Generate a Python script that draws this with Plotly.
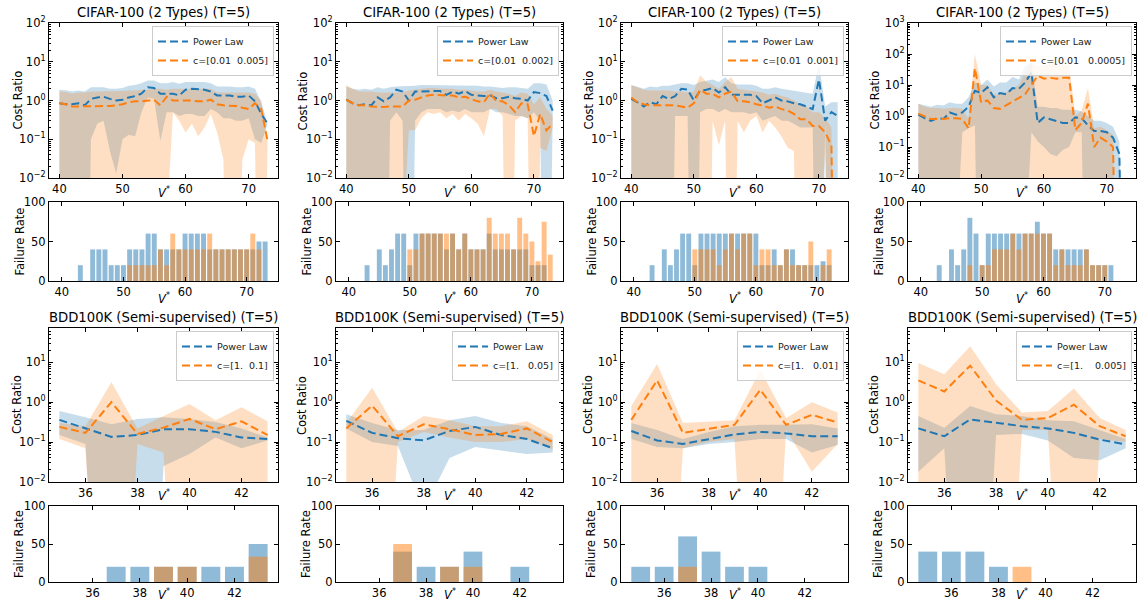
import numpy as np
import plotly.graph_objects as go

W, H = 1138, 602
NB = "\u00a0"

# ---------------- data ----------------
V_CIFAR = list(range(40, 74))
V_BDD = list(range(35, 44))

CIFAR_TITLE = "CIFAR-100 (2 Types) (T=5)"
BDD_TITLE = "BDD100K (Semi-supervised) (T=5)"
BASE_NAME = "Power Law"
CIFAR_C = ["c=[0.01  0.005]", "c=[0.01  0.002]", "c=[0.01  0.001]", "c=[0.01   0.0005]"]
BDD_C = ["c=[1.  0.1]", "c=[1.   0.05]", "c=[1.   0.01]", "c=[1.    0.005]"]

# CIFAR cost ratio (0 = below the axis / non-positive)
pl1_mean = [0.85,0.8,0.8,0.85,0.75,1.1,1.2,1.25,1.1,1.0,1.05,1.2,1.3,1.5,2.2,2.1,1.5,1.5,1.5,1.35,1.9,2.0,1.95,1.9,1.7,1.35,1.35,1.35,1.25,1.25,1.35,0.95,0.45,0.25]
pl1_lo = [0,0,0,0,0,0.1,0.25,0.3,0.05,0.013,0.1,0.13,0.12,0.5,1.2,1.1,0.09,0.5,0.5,0.4,0.45,0.45,0.4,0.4,0.6,0.5,0.35,0.35,0.3,0.3,0.35,0.1,0.08,0.25]
pl1_hi = [1.9,1.85,1.7,1.8,1.7,2.2,2.2,2.2,2.0,2.0,2.1,2.4,2.5,2.8,3.3,3.3,2.8,2.8,3.0,2.7,3.0,3.0,3.0,3.0,2.8,2.3,2.3,2.3,2.2,2.2,2.3,2.0,0.9,0.25]
c1_mean = [0.85,0.8,0.7,0.7,0.72,0.72,0.72,0.72,0.72,0.75,0.8,0.9,0.95,0.95,1.0,1.05,0.75,1.25,1.0,1.0,1.0,1.0,0.95,0.95,1.05,0.8,0.75,0.75,0.72,0.65,0.6,0.85,0.6,0.09]
c1_lo = [0]*18 + [0.5,0.3,0.15,0.25,0.12,0.2,0.45,0.15,0.03,0,0,0.03,0.1,0.08,0,0.09]
c1_hi = [1.7,1.65,1.5,1.6,1.6,1.7,1.7,1.7,1.7,1.7,1.75,1.8,1.8,1.9,1.9,2.0,2.0,1.9,2.0,2.0,2.0,2.0,2.0,2.0,2.0,1.6,1.6,1.6,1.6,1.6,1.6,1.5,1.0,0.09]

pl2_mean = [1.05,0.85,0.75,0.8,0.75,1.2,0.95,1.2,1.9,1.7,1.0,1.7,1.7,1.75,1.75,1.75,1.4,1.7,1.5,1.75,1.4,1.35,1.3,1.35,1.15,1.15,1.25,1.15,1.1,1.0,1.65,1.55,1.3,0.55]
pl2_lo = [0,0,0,0,0,0,0,0.3,0.5,0.3,0,0.3,0.5,0.6,0.6,0.6,0.5,0.55,0.5,0.6,0.5,0.5,0.5,0.6,0.5,0.5,0.45,0.4,0.4,0.35,0.5,0.3,0,0.4]
pl2_hi = [2.3,2.0,1.9,2.0,1.9,2.2,2.0,2.2,2.3,2.3,2.3,2.4,2.5,2.5,2.5,2.5,2.4,2.5,2.4,2.5,2.4,2.4,2.3,2.3,2.2,2.1,2.2,2.2,2.1,2.0,2.8,2.8,2.6,1.0]
c2_mean = [1.05,0.85,0.75,0.75,0.7,0.68,0.68,0.7,0.7,0.7,1.0,1.05,1.2,1.35,1.4,1.35,1.35,1.35,1.2,1.25,1.1,0.95,0.9,1.55,0.95,0.95,0.75,0.5,0.85,0.8,0.12,0.45,0.17,0.25]
c2_lo = [0]*10 + [0.17,0.17,0.35,0.5,0.45,0.5,0.35,0.45,0.3,0.45,0.35,0.25,0.12,0.6,0.6,0.4,0,0.3,0.4,0.35,0,0.06,0.05,0.2]
c2_hi = [2.5,2.0,1.7,1.7,1.7,1.6,1.6,1.6,1.6,1.6,1.8,1.9,2.0,2.1,2.1,2.0,2.0,2.0,1.9,1.9,1.8,1.7,1.7,1.9,1.7,1.6,1.5,1.3,1.6,1.5,0.8,1.2,0.6,0.4]

pl3_mean = [1.1,0.9,0.7,0.9,0.8,1.3,1.1,1.3,2.0,1.9,1.0,1.8,1.9,2.1,1.6,2.2,1.4,1.4,1.4,1.4,1.3,0.85,1.0,1.2,1.0,0.95,0.85,0.8,0.7,0.6,3.5,0.3,0.5,0.4]
pl3_lo = [0,0,0,0,0,0,0,0.4,0.4,0.4,0,0.5,0.6,0.6,0.5,0.6,0.5,0.5,0.5,0.45,0.5,0.3,0.35,0.4,0.3,0.3,0.25,0.2,0.2,0.2,0,0.25,0,0]
pl3_hi = [2.5,2.2,2.0,2.3,2.2,2.4,2.4,2.6,2.8,2.8,2.5,3.0,3.2,3.5,3.0,4.0,2.8,2.6,2.6,2.6,2.4,2.0,2.0,2.2,2.0,1.9,1.8,1.7,1.6,1.5,9.0,0.7,0.9,0.9]
c3_mean = [1.2,0.9,0.8,0.75,0.75,0.75,0.75,0.75,0.7,0.65,0.85,1.9,1.5,1.5,1.2,1.5,1.7,0.95,0.95,0.9,0.8,0.75,0.65,0.7,0.6,0.55,0.45,0.33,0.33,0.22,0.22,0.15,0.07,0]
c3_lo = [0]*13 + [0.3,0.07,0.3,0,0.3,0.15,0.3,0.4,0.15,0.3,0.2,0.12,0.06,0.05,0,0,0,0,0.05,0,0]
c3_hi = [2.5,2.2,1.9,1.8,1.8,1.8,1.8,1.7,1.7,1.6,1.7,4.5,3.0,2.5,2.0,3.0,4.0,2.0,1.9,1.8,1.7,1.6,1.4,1.5,1.3,1.2,1.0,0.8,0.7,0.5,0.5,0.35,0.2,0]

pl4_mean = [1.1,0.85,0.7,0.85,0.8,1.3,1.1,1.3,2.0,6.5,5.5,8.5,4.0,5.5,5.0,8.0,7.5,12,25,0.6,0.9,0.8,0.7,0.6,0.6,0.9,0.85,0.5,0.33,0.33,0.3,0.2,0.06,0]
pl4_lo = [0,0,0,0,0,0,0,0.3,0.4,0.5,0,0,0,0,0,0,0,0,0.3,0.15,0.1,0.06,0.05,0.08,0.1,0.3,0.3,0,0,0,0,0,0,0]
pl4_hi = [2.5,2.2,2.0,2.3,2.2,2.8,2.5,2.5,4.0,12,10,15,9,12,12,18,15,40,55,2.0,2.0,1.8,1.8,1.6,1.6,1.6,1.4,1.0,0.7,0.7,0.6,0.45,0.15,0]
c4_mean = [1.2,0.95,0.8,0.8,0.8,0.85,0.85,0.8,0.4,35,2.7,3.2,1.8,1.7,2.2,3.0,3.7,5.0,10,20,16,17,16,17,17,0.35,0.6,2.5,0.1,0.2,0.15,0.1,0,0]
c4_lo = [0]*34
c4_hi = [2.5,2.0,1.8,1.8,1.7,1.8,1.8,1.7,0.8,100,10,10,5,5,6,8,10,25,50,40,45,48,50,45,45,1.0,1.5,8,0.4,0.45,0.35,0.25,0,0]

# CIFAR failure rate (%)
fr_pl1 = [0,0,0,20,0,40,40,40,20,20,20,40,40,40,60,60,40,40,40,40,60,60,60,60,40,40,40,40,40,40,40,40,50,50]
fr_c1 = [0,0,0,0,0,0,0,0,0,0,0,20,20,20,20,20,40,20,60,40,40,40,40,40,60,40,40,40,40,40,40,60,40,0]
fr_pl2 = [0,0,0,20,0,40,20,40,60,60,20,60,60,60,60,60,40,60,40,60,40,40,40,60,40,40,40,40,40,40,20,20,20,0]
fr_c2 = [0,0,0,0,0,0,0,0,0,0,40,40,60,60,60,60,60,60,40,60,40,40,40,80,60,60,60,40,80,60,50,25,75,33.3]
fr_pl3 = [0,0,0,20,0,40,20,40,60,60,20,60,60,60,60,60,60,60,60,60,60,20,20,40,20,40,40,20,20,20,20,25,20,0]
fr_c3 = [0,0,0,0,0,0,0,0,0,0,40,40,40,40,20,40,60,40,60,60,20,40,40,20,20,40,20,20,20,50,0,20,40,0]
fr_pl4 = [0,0,0,20,0,40,20,40,80,60,20,60,60,60,60,60,60,60,60,75,60,60,40,40,40,40,40,40,20,20,20,20,0,0]
fr_c4 = [0,0,0,0,0,0,0,0,20,0,20,20,40,40,40,60,40,60,60,60,60,60,20,40,20,20,20,40,20,20,20,0,0,0]

# BDD cost ratio
bpl1_mean = [0.36,0.22,0.135,0.15,0.21,0.21,0.18,0.13,0.12]
bpl1_lo = [0.15,0.09,0,0,0.025,0.05,0.13,0.07,0.11]
bpl1_hi = [0.6,0.42,0.28,0.38,0.42,0.38,0.32,0.22,0.13]
bc1_mean = [0.24,0.17,1.0,0.16,0.23,0.38,0.21,0.33,0.15]
bc1_lo = [0.12,0.07,0,0.09,0.055,0,0,0,0]
bc1_hi = [0.3,0.25,3.2,0.22,0.45,0.9,0.35,0.75,0.33]

bpl2_mean = [0.34,0.17,0.125,0.11,0.19,0.24,0.15,0.12,0.07]
bpl2_lo = [0.22,0.1,0.08,0.002,0.04,0.075,0.06,0.05,0.055]
bpl2_hi = [0.5,0.3,0.2,0.2,0.35,0.45,0.3,0.25,0.12]
bc2_mean = [0.22,0.82,0.14,0.28,0.21,0.15,0.16,0.22,0.1]
bc2_lo = [0,0,0.1,0.18,0.13,0.1,0.1,0.12,0.065]
bc2_hi = [0.3,2.3,0.18,0.45,0.35,0.25,0.25,0.33,0.15]

bpl3_mean = [0.19,0.11,0.09,0.12,0.155,0.18,0.165,0.14,0.14]
bpl3_lo = [0.12,0.075,0.07,0.09,0.1,0.12,0.12,0.055,0.085]
bpl3_hi = [0.3,0.2,0.12,0.18,0.25,0.27,0.27,0.28,0.22]
bc3_mean = [0.36,3.5,0.17,0.21,0.27,2.05,0.27,0.48,0.31]
bc3_lo = [0,0,0.07,0.1,0.12,0,0.2,0.018,0.09]
bc3_hi = [0.8,9,0.3,0.32,0.35,6.5,0.4,1.0,0.55]

bpl4_mean = [0.22,0.14,0.37,0.31,0.25,0.22,0.17,0.115,0.088]
bpl4_lo = [0.018,0.07,0,0.15,0.16,0.11,0.04,0.035,0.07]
bpl4_hi = [0.45,0.23,0.8,0.5,0.45,0.35,0.33,0.2,0.12]
bc4_mean = [3.5,1.85,8.2,1.1,0.36,0.4,0.86,0.25,0.14]
bc4_lo = [0,0,0,0,0.2,0.2,0,0.12,0.1]
bc4_hi = [9.5,5,25,2.8,0.55,0.6,2.2,0.4,0.2]

# BDD failure rate (%)
bfr_pl1 = [0,0,20,20,20,20,20,20,50]
bfr_c1 = [0,0,0,0,20,20,0,0,33.3]
bfr_pl2 = [0,0,40,20,20,40,0,20,0]
bfr_c2 = [0,0,50,0,20,20,0,0,0]
bfr_pl3 = [20,20,60,40,20,20,0,0,0]
bfr_c3 = [0,0,20,0,0,0,0,0,0]
bfr_pl4 = [40,40,40,20,0,0,0,0,0]
bfr_c4 = [0,0,0,0,20,0,0,0,0]

# ---------------- assembly ----------------
CIFAR_COST = [(pl1_mean, pl1_lo, pl1_hi, c1_mean, c1_lo, c1_hi),
              (pl2_mean, pl2_lo, pl2_hi, c2_mean, c2_lo, c2_hi),
              (pl3_mean, pl3_lo, pl3_hi, c3_mean, c3_lo, c3_hi),
              (pl4_mean, pl4_lo, pl4_hi, c4_mean, c4_lo, c4_hi)]
BDD_COST = [(bpl1_mean, bpl1_lo, bpl1_hi, bc1_mean, bc1_lo, bc1_hi),
            (bpl2_mean, bpl2_lo, bpl2_hi, bc2_mean, bc2_lo, bc2_hi),
            (bpl3_mean, bpl3_lo, bpl3_hi, bc3_mean, bc3_lo, bc3_hi),
            (bpl4_mean, bpl4_lo, bpl4_hi, bc4_mean, bc4_lo, bc4_hi)]
CIFAR_FR = [(fr_pl1, fr_c1), (fr_pl2, fr_c2), (fr_pl3, fr_c3), (fr_pl4, fr_c4)]
BDD_FR = [(bfr_pl1, bfr_c1), (bfr_pl2, bfr_c2), (bfr_pl3, bfr_c3), (bfr_pl4, bfr_c4)]

COLS = [(49, 278), (336, 563), (621, 848), (908, 1136)]
ROWS = [(23, 178), (202, 281), (328, 482), (506, 582)]
YT_COST = [17, 302, 588, 874]
YT_BAR = [19, 306, 591, 878]
XT_Y = [192, 298, 495, 594]

BLUE = "#1f77b4"
ORANGE = "#ff7f0e"
B_RGB = (31, 119, 180)
O_RGB = (255, 127, 14)
FONT = "DejaVu Sans"


def rgba(c, a):
    return f"rgba({c[0]},{c[1]},{c[2]},{a})"


def pos(v):
    a = np.asarray(v, dtype=float)
    return np.where(a > 0, a, 1e-12)


def cost_range(v):
    lo, hi = min(v), max(v)
    m = 0.05 * (hi - lo)
    return [lo - m, hi + m]


def bar_range(v, w=0.8):
    lo, hi = min(v) - w / 2, max(v) + w / 2
    m = 0.05 * (hi - lo)
    return [lo - m, hi + m]


def sup(e):
    return "10<sup>" + ("\u2212" + str(-e) if e < 0 else str(e)) + "</sup>"


def nb(s):
    return s.replace(" ", NB)


fig = go.Figure()
layout = dict(width=W, height=H, margin=dict(l=0, r=0, t=0, b=0),
              paper_bgcolor="white", plot_bgcolor="white",
              font=dict(family=FONT, size=11, color="black"),
              barmode="overlay", showlegend=True, annotations=[])

common = dict(showline=True, linecolor="black", linewidth=1.2, mirror="ticks",
              ticks="inside", ticklen=3.5, tickwidth=1, tickcolor="black",
              showgrid=False, zeroline=False, automargin=False,
              tickfont=dict(family=FONT, size=11.5, color="black"))

XT = "<i>V</i><sup>*</sup>"

for r in range(4):
    for c in range(4):
        k = r * 4 + c + 1
        xa = "xaxis" if k == 1 else f"xaxis{k}"
        ya = "yaxis" if k == 1 else f"yaxis{k}"
        xr = "x" if k == 1 else f"x{k}"
        yr = "y" if k == 1 else f"y{k}"
        l, rr = COLS[c]
        t, b = ROWS[r]
        cifar = r < 2
        V = V_CIFAR if cifar else V_BDD
        xticks = [40, 50, 60, 70] if cifar else [36, 38, 40, 42]
        xd = dict(domain=[l / W, rr / W], anchor=yr, tickvals=xticks, **common)
        yd = dict(domain=[1 - b / H, 1 - t / H], anchor=xr, **common)
        if r in (0, 2):
            data = (CIFAR_COST if cifar else BDD_COST)[c]
            pm, plo, phi, cm, clo, chi = data
            xd["range"] = cost_range(V)
            if cifar:
                top = 3 if c == 3 else 2
            else:
                top = np.log10(72)
            exps = [e for e in range(-2, 4) if e <= top + 1e-9]
            yd.update(type="log", range=[-2, top], tickvals=[10.0 ** e for e in exps],
                      ticktext=[sup(e) for e in exps],
                      minor=dict(ticks="inside", ticklen=2, tickcolor="black",
                                 tickvals=[m * 10.0 ** e for e in range(-2, 3) for m in range(2, 10)]))
            lid_idx = (0 if cifar else 4) + c + 1
            lid = "legend" if lid_idx == 1 else f"legend{lid_idx}"
            for lo_, hi_, col in ((plo, phi, B_RGB), (clo, chi, O_RGB)):
                fig.add_trace(go.Scatter(
                    x=V + V[::-1], y=np.concatenate([pos(hi_), pos(lo_)[::-1]]),
                    fill="toself", fillcolor=rgba(col, 0.25), line=dict(width=0),
                    mode="lines", showlegend=False, hoverinfo="skip", xaxis=xr, yaxis=yr))
            cname = (CIFAR_C if cifar else BDD_C)[c]
            for mean, colr, name in ((pm, BLUE, BASE_NAME), (cm, ORANGE, nb(cname))):
                fig.add_trace(go.Scatter(
                    x=V, y=pos(mean), mode="lines", name=name,
                    line=dict(color=colr, width=2, dash="8px,4px"),
                    legend=lid, xaxis=xr, yaxis=yr))
            layout[lid] = dict(x=(rr - 4) / W, y=1 - (t + 3) / H, xanchor="right", yanchor="top",
                               bgcolor="rgba(255,255,255,0.8)", bordercolor="#cccccc", borderwidth=1,
                               font=dict(family=FONT, size=9.5, color="#222"), itemwidth=30,
                               tracegroupgap=0)
            layout["annotations"].append(dict(
                text=CIFAR_TITLE if cifar else BDD_TITLE, x=(l + rr) / 2 / W, y=1 - (t - 1) / H,
                xref="paper", yref="paper", xanchor="center", yanchor="bottom", showarrow=False,
                font=dict(family=FONT, size=13.2, color="black")))
            layout["annotations"].append(dict(
                text="Cost Ratio", x=YT_COST[c] / W, y=1 - (t + b) / 2 / H, xref="paper", yref="paper",
                xanchor="center", yanchor="middle", textangle=-90, showarrow=False,
                font=dict(family=FONT, size=11.5, color="black")))
        else:
            fpl, fc = (CIFAR_FR if cifar else BDD_FR)[c]
            xd["range"] = bar_range(V)
            yd.update(range=[0, 100], tickvals=[0, 50, 100])
            for vals, col in ((fpl, B_RGB), (fc, O_RGB)):
                fig.add_trace(go.Bar(x=V, y=vals, width=0.8, marker=dict(color=rgba(col, 0.5), line=dict(width=0)),
                                     showlegend=False, hoverinfo="skip", xaxis=xr, yaxis=yr))
            layout["annotations"].append(dict(
                text="Failure Rate", x=YT_BAR[c] / W, y=1 - (t + b) / 2 / H, xref="paper", yref="paper",
                xanchor="center", yanchor="middle", textangle=-90, showarrow=False,
                font=dict(family=FONT, size=11.5, color="black")))
        layout["annotations"].append(dict(
            text=XT, x=(l + rr) / 2 / W, y=1 - XT_Y[r] / H, xref="paper", yref="paper",
            xanchor="center", yanchor="middle", showarrow=False,
            font=dict(family=FONT, size=11.5, color="black")))
        layout[xa] = xd
        layout[ya] = yd

fig.update_layout(**layout)
fig.write_html("out.html")
